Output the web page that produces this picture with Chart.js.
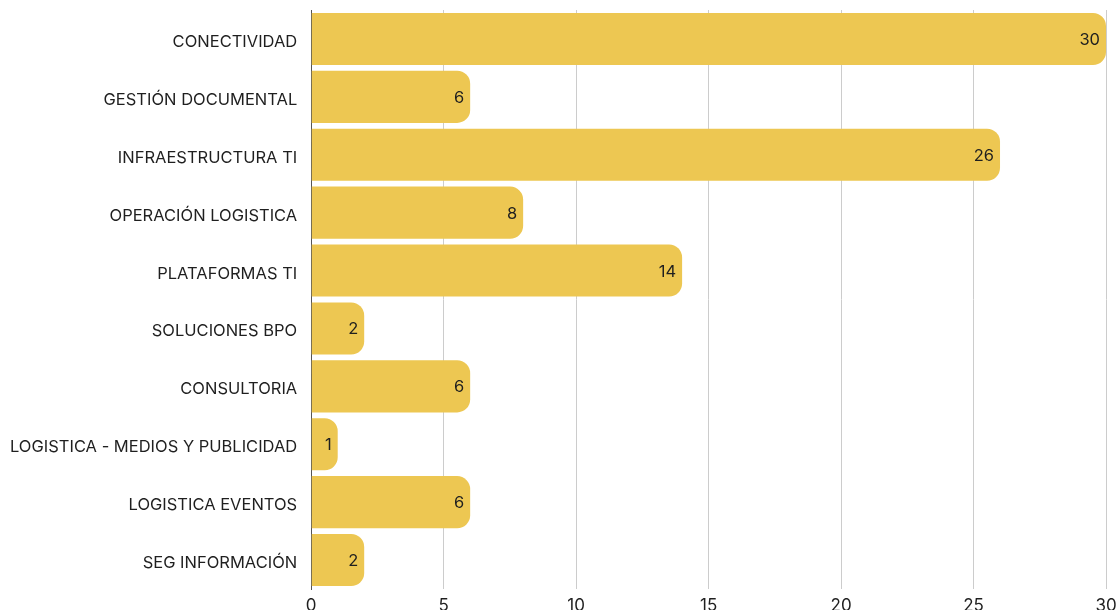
<!DOCTYPE html>
<html>
<head>
<meta charset="utf-8">
<script src="https://cdn.jsdelivr.net/npm/chart.js@4"></script>
<style>
  html, body { margin: 0; padding: 0; background: #ffffff; }
  #wrap { width: 1117px; height: 610px; }
</style>
</head>
<body>
<div id="wrap"><canvas id="c" width="1117" height="610"></canvas></div>
<script>
const categories = [
  "CONECTIVIDAD",
  "GESTIÓN DOCUMENTAL",
  "INFRAESTRUCTURA TI",
  "OPERACIÓN LOGISTICA",
  "PLATAFORMAS TI",
  "SOLUCIONES BPO",
  "CONSULTORIA",
  "LOGISTICA - MEDIOS Y PUBLICIDAD",
  "LOGISTICA EVENTOS",
  "SEG INFORMACIÓN"
];
const values = [30, 6, 26, 8, 14, 2, 6, 1, 6, 2];
const xTicks = [0, 5, 10, 15, 20, 25, 30];

const FONT = "Inter, 'Noto Sans', sans-serif";

const valueLabels = {
  id: 'valueLabels',
  afterDatasetsDraw(chart) {
    const ctx = chart.ctx;
    const meta = chart.getDatasetMeta(0);
    ctx.save();
    ctx.font = "16.5px " + FONT;
    ctx.fillStyle = "#1f1f1f";
    ctx.textAlign = "right";
    ctx.textBaseline = "middle";
    meta.data.forEach((bar, i) => {
      ctx.fillText(String(values[i]), bar.x - 6, bar.y + 1);
    });
    ctx.restore();
  }
};

new Chart(document.getElementById('c'), {
  type: 'bar',
  data: {
    labels: categories,
    datasets: [{
      data: values,
      backgroundColor: '#EDC752',
      borderRadius: 13,
      borderSkipped: 'start',
      categoryPercentage: 1.0,
      barPercentage: 0.9
    }]
  },
  options: {
    indexAxis: 'y',
    responsive: false,
    animation: false,
    layout: { padding: { top: 10, left: 10, right: 0, bottom: 0 } },
    plugins: {
      legend: { display: false },
      tooltip: { enabled: false }
    },
    scales: {
      x: {
        min: 0,
        max: 30,
        afterBuildTicks(scale) { scale.ticks = xTicks.map(v => ({ value: v })); },
        afterFit(scale) { scale.height = 21; scale.paddingRight = 11; },
        grid: { color: '#cccccc', drawTicks: false, lineWidth: 1 },
        border: { display: false },
        ticks: {
          padding: 7,
          color: '#1f1f1f',
          font: { family: FONT, size: 17 }
        }
      },
      y: {
        afterFit(scale) {
          scale.paddingTop = 0;
          scale.paddingBottom = 0;
          scale.width -= 14;
        },
        grid: { display: false, drawTicks: false },
        border: { display: true, color: '#555555', width: 1 },
        ticks: {
          padding: 14,
          labelOffset: 3,
          color: '#1f1f1f',
          font: { family: FONT, size: 16.5 }
        }
      }
    }
  },
  plugins: [valueLabels]
});
</script>
</body>
</html>
